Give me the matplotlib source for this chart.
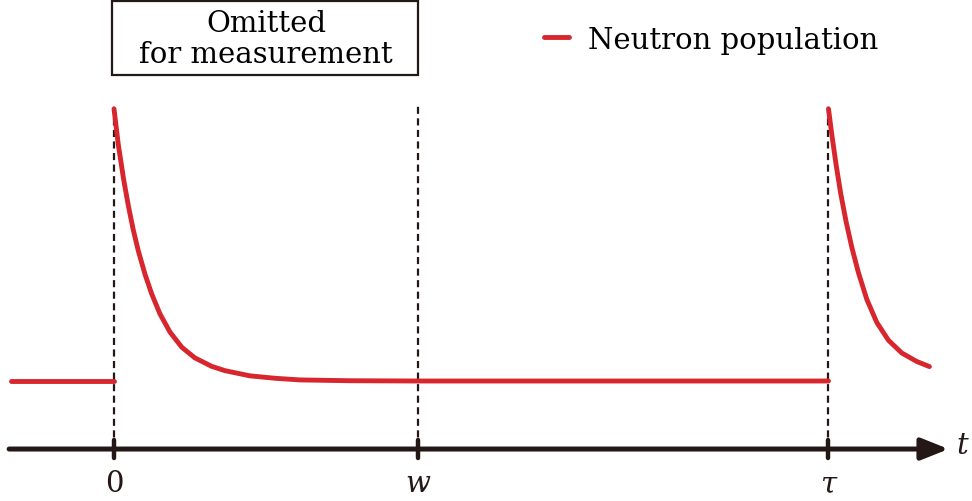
import matplotlib.pyplot as plt
from matplotlib.patches import Rectangle
from matplotlib.lines import Line2D

# time axis in units of w (0 -> 0, w -> 1, tau -> 2.35)
tick_pos = [0.0, 1.0, 2.35]
tick_labels = ["0", "w", "τ"]

# neutron population (baseline = 0, peak = 1)
flat_t = [-0.34, 0.0]
flat_y = [0.0, 0.0]

decay1_t = [0.0, 0.014, 0.031, 0.047, 0.063, 0.080, 0.102, 0.124, 0.151, 0.184,
            0.223, 0.266, 0.321, 0.365, 0.447, 0.530, 0.612, 0.776, 1.0, 2.35]
decay1_y = [1.0, 0.870, 0.745, 0.645, 0.557, 0.478, 0.392, 0.320, 0.247, 0.180,
            0.124, 0.085, 0.054, 0.038, 0.019, 0.010, 0.004, 0.001, 0.0, 0.0]

decay2_t = [2.35, 2.361, 2.375, 2.390, 2.408, 2.427, 2.448, 2.476, 2.509,
            2.547, 2.591, 2.640, 2.682]
decay2_y = [1.0, 0.905, 0.795, 0.690, 0.585, 0.490, 0.400, 0.300, 0.215,
            0.150, 0.103, 0.072, 0.053]

red = "#d7262d"
dark = "#231815"
font = "DejaVu Serif"

fig = plt.figure(figsize=(9.72, 5.02), dpi=100)
ax = fig.add_axes([0, 0, 1, 1])
ax.set_xlim(-0.375, 2.822)
ax.set_ylim(-0.441, 1.404)
ax.axis("off")

axis_y = -0.25

# dashed guide lines
for t in tick_pos:
    ax.plot([t, t], [axis_y, 1.01], color=dark, lw=1.6, ls=(0, (3.2, 2.0)), zorder=1)

# red curve
style = dict(color=red, lw=3.5, solid_capstyle="round", solid_joinstyle="round", zorder=3)
ax.plot(flat_t, flat_y, **style)
ax.plot(decay1_t, decay1_y, **style)
ax.plot(decay2_t, decay2_y, **style)

# time axis with arrow
ax.annotate("", xy=(2.745, axis_y), xytext=(-0.345, axis_y),
            arrowprops=dict(arrowstyle="-|>,head_length=0.75,head_width=0.3",
                            lw=3.6, color=dark, mutation_scale=22,
                            shrinkA=0, shrinkB=0), zorder=4)
ax.text(2.79, axis_y + 0.015, "t", fontsize=21, family=font, style="italic",
        ha="center", va="center", color=dark)

for t, lab in zip(tick_pos, tick_labels):
    ax.plot([t, t], [axis_y - 0.032, axis_y + 0.032], color=dark, lw=3.2,
            solid_capstyle="round", zorder=5)
    ax.text(t, axis_y - 0.125, lab, fontsize=21, family=font,
            style="normal" if lab == "0" else "italic",
            ha="center", va="center", color=dark)

# box over the omitted window
ax.add_patch(Rectangle((-0.0066, 1.125), 1.0066, 0.272, fill=False,
                       edgecolor=dark, lw=1.6, zorder=2))
ax.text(0.5, 1.258, "Omitted\nfor measurement", fontsize=21, family=font,
        ha="center", va="center", linespacing=1.12, color="black")

# legend
handle = Line2D([], [], color=red, lw=3.5, solid_capstyle="round")
fig.legend([handle], ["Neutron population"], loc="center left",
           bbox_to_anchor=(0.548, 0.919), frameon=False, handlelength=0.85,
           handletextpad=0.65, borderaxespad=0, prop={"family": font, "size": 21})

fig.savefig("out.png", dpi=100)
